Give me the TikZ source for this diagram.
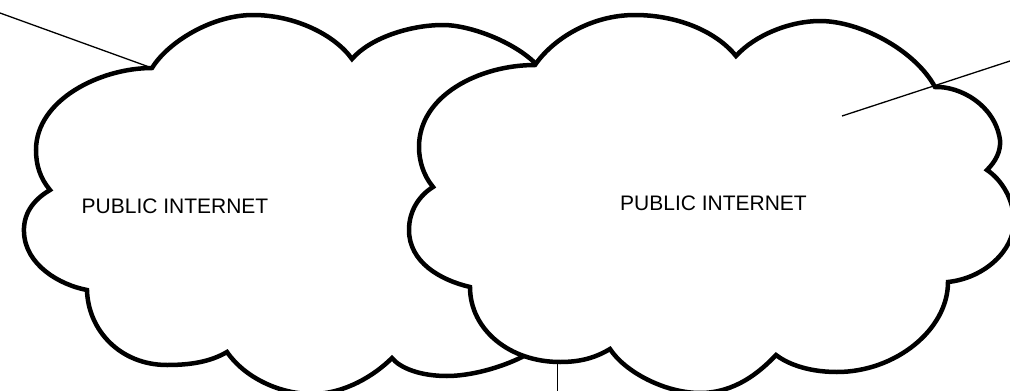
\documentclass[tikz,border=0pt]{standalone}
\usepackage{fontspec}
\setmainfont{Liberation Sans}
\begin{document}
\begin{tikzpicture}[x=1pt,y=-1pt,
  cloudline/.style={draw=black, line width=4.5pt, fill=white, line join=miter},
  wire/.style={draw=black, line width=1.3pt},
  lbl/.style={font=\fontsize{21}{25}\selectfont, inner sep=0pt}]
\useasboundingbox (0,0) rectangle (1010,391);
\clip (0,0) rectangle (1010,391);
\fill[white] (0,0) rectangle (1010,391);
% left cloud cusps
\coordinate (c1) at (152,68);
\coordinate (c2) at (352,59);
\coordinate (c3) at (537,65);
\coordinate (c4) at (522,357);
\coordinate (c5) at (392,358);
\coordinate (c6) at (227,352);
\coordinate (c7) at (87,290);
\coordinate (c8) at (50,190);
% right cloud cusps
\coordinate (r1) at (535,65);
\coordinate (r2) at (736,56);
\coordinate (r3) at (935,87);
\coordinate (r4) at (987,170);
\coordinate (r5) at (948,282);
\coordinate (r6) at (776,355);
\coordinate (r7) at (610,349);
\coordinate (r8) at (470,287);
\coordinate (r9) at (433,187);
% left cloud
\path[cloudline] (c1) .. controls (168,42) and (212,15) .. (253,15)
 .. controls (295,15) and (335,35) .. (c2)
 .. controls (370,38) and (410,25) .. (443,25)
 .. controls (470,25) and (515,42) .. (c3)
 -- (620,150) -- (620,300) -- (c4)
 .. controls (500,368) and (470,376) .. (447,376)
 .. controls (420,376) and (400,368) .. (c5)
 .. controls (375,375) and (345,394) .. (312,394)
 .. controls (280,394) and (245,378) .. (c6)
 .. controls (210,362) and (190,365) .. (167,365)
 .. controls (120,365) and (88,330) .. (c7)
 .. controls (60,285) and (25,265) .. (24,232)
 .. controls (23,210) and (38,197) .. (c8)
 .. controls (40,178) and (36,165) .. (36,150)
 .. controls (36,100) and (100,68) .. (c1) -- cycle;
\node[lbl, anchor=base] (t1) at (175,213) {PUBLIC INTERNET};
\coordinate (e1) at (0,13);
\draw[wire] (e1) -- (c1);
% right cloud
\path[cloudline] (r1) .. controls (552,40) and (590,15) .. (635,15)
 .. controls (675,15) and (715,30) .. (r2)
 .. controls (755,35) and (790,21) .. (820,21)
 .. controls (860,21) and (915,50) .. (r3)
 .. controls (960,86) and (995,105) .. (1000,140)
 .. controls (1001,152) and (995,162) .. (r4)
 .. controls (1002,180) and (1014,200) .. (1014,222)
 .. controls (1014,250) and (985,278) .. (r5)
 .. controls (948,330) and (895,372) .. (837,372)
 .. controls (805,372) and (785,362) .. (r6)
 .. controls (760,372) and (735,393) .. (700,393)
 .. controls (665,393) and (625,372) .. (r7)
 .. controls (595,358) and (580,362) .. (560,362)
 .. controls (510,362) and (470,330) .. (r8)
 .. controls (440,280) and (409,262) .. (409,230)
 .. controls (409,210) and (420,195) .. (r9)
 .. controls (423,175) and (419,160) .. (419,147)
 .. controls (419,95) and (480,65) .. (r1) -- cycle;
\node[lbl, anchor=base] (t2) at (713.5,210) {PUBLIC INTERNET};
\coordinate (e2a) at (842,116);
\coordinate (e2b) at (1010,61);
\draw[wire] (e2a) -- (e2b);
\coordinate (e3a) at (557.5,362);
\coordinate (e3b) at (557.5,391);
\draw[wire] (e3a) -- (e3b);
\end{tikzpicture}
\end{document}
